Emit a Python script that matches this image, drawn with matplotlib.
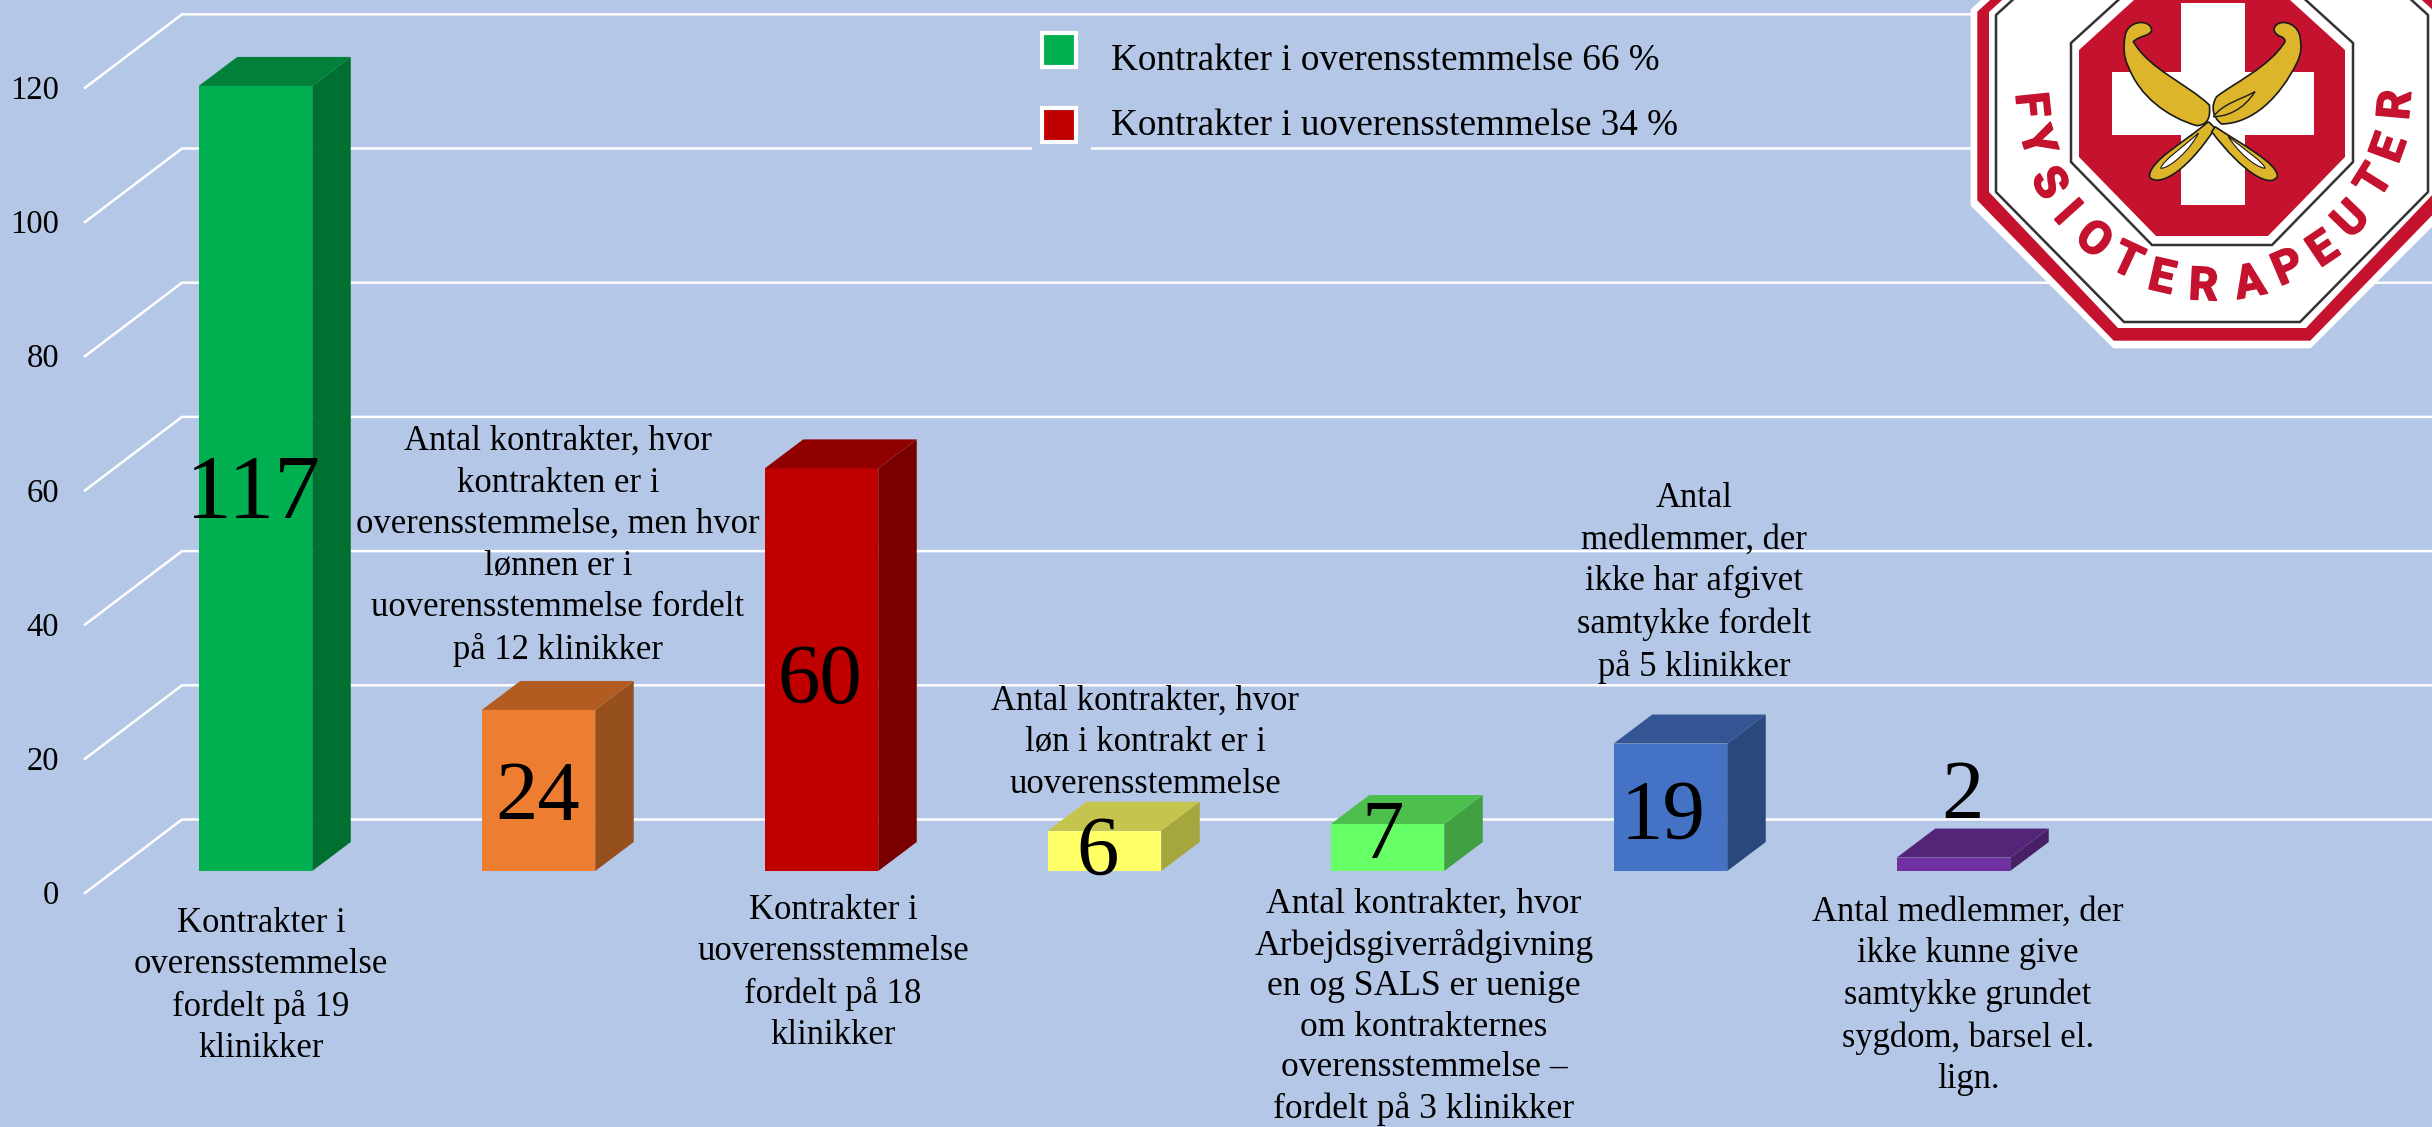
import matplotlib
matplotlib.use("Agg")
import matplotlib.pyplot as plt
import matplotlib.patheffects as pe
from matplotlib.patches import Polygon, Rectangle, PathPatch
from matplotlib.path import Path

# ---- data ----
categories = ["Kontrakter i overensstemmelse", "Overensstemmelse, løn i uoverensstemmelse",
              "Kontrakter i uoverensstemmelse", "Løn i kontrakt i uoverensstemmelse",
              "Uenighed", "Ikke afgivet samtykke", "Kunne ikke give samtykke"]
values = [117, 24, 60, 6, 7, 19, 2]
y_ticks = [0, 20, 40, 60, 80, 100, 120]
legend_labels = ["Kontrakter i overensstemmelse 66 %", "Kontrakter i uoverensstemmelse 34 %"]
notes = [
    "Kontrakter i\noverensstemmelse\nfordelt på 19\nklinikker",
    "Antal kontrakter, hvor\nkontrakten er i\noverensstemmelse, men hvor\nlønnen er i\nuoverensstemmelse fordelt\npå 12 klinikker",
    "Kontrakter i\nuoverensstemmelse\nfordelt på 18\nklinikker",
    "Antal kontrakter, hvor\nløn i kontrakt er i\nuoverensstemmelse",
    "Antal kontrakter, hvor\nArbejdsgiverrådgivning\nen og SALS er uenige\nom kontrakternes\noverensstemmelse –\nfordelt på 3 klinikker",
    "Antal\nmedlemmer, der\nikke har afgivet\nsamtykke fordelt\npå 5 klinikker",
    "Antal medlemmer, der\nikke kunne give\nsamtykke grundet\nsygdom, barsel el.\nlign.",
]

# ---- styles ----
BG = "#B4C7E7"
front = ["#00B050", "#ED7D31", "#C00000", "#FFFF66", "#66FF66", "#4472C4", "#7030A0"]
side = ["#007030", "#96501E", "#7A0000", "#A6A63E", "#41A041", "#2B487C", "#472066"]
top = ["#008038", "#B35C21", "#900000", "#C4C44E", "#4DBF4D", "#335593", "#542478"]
note_xy = [(261, 986), (558, 546), (833, 973), (1145, 743), (1424, 1007), (1694, 583), (1968, 996)]
note_size = [24.9, 24.9, 24.9, 24.9, 25.6, 24.9, 24.9]
note_spacing = [1.34, 1.34, 1.34, 1.34, 1.30, 1.34, 1.34]
value_xy = [(253, 496), (538, 800), (820, 682), (1098, 854), (1383, 838), (1663, 818), (1962, 798)]
value_size = [66, 61, 61, 61, 61, 61, 61]
SERIF = "Liberation Serif"
W, H = 2432, 1127
PX_X, X0 = 283.0, 255.5     # pixels per category, pixel of category 0
PX_Y, Y0 = 6.71, 871.0      # pixels per unit, pixel of value 0
BAR_W = 113.5 / PX_X
DX, DY = 38.5 / PX_X, 29 / PX_Y

fig = plt.figure(figsize=(W / 100, H / 100), dpi=100, facecolor=BG)
ax = fig.add_axes([0, 0, 1, 1], facecolor=BG)
ax.set_xlim(-X0 / PX_X, (W - X0) / PX_X)
ax.set_ylim((Y0 - H) / PX_Y, Y0 / PX_Y)
ax.axis("off")

# grid lines in the pseudo-3D floor/wall
gx0, gx1 = (85 - X0) / PX_X, (182 - X0) / PX_X
gy0, gy1 = -22 / PX_Y, 51.5 / PX_Y
for t in y_ticks:
    ax.plot([gx0, gx1, (W + 20 - X0) / PX_X], [t + gy0, t + gy1, t + gy1],
            color="white", lw=1.8, zorder=1, solid_joinstyle="miter")

# bars
xs = list(range(len(values)))
ax.bar(xs, values, width=BAR_W, color=front, zorder=3, linewidth=0)
for x, v, s, tp in zip(xs, values, side, top):
    l, r = x - BAR_W / 2, x + BAR_W / 2
    ax.add_patch(Polygon([(r, 0), (r + DX, DY), (r + DX, v + DY), (r, v)], fc=s, lw=0, zorder=3))
    ax.add_patch(Polygon([(l, v), (r, v), (r + DX, v + DY), (l + DX, v + DY)], fc=tp, lw=0, zorder=3))

# overlay in pixel coordinates for annotation and logo
ov = fig.add_axes([0, 0, 1, 1], facecolor="none")
ov.set_xlim(0, W)
ov.set_ylim(H, 0)
ov.axis("off")

for t in y_ticks:
    ov.text(59, Y0 + 25 - t * PX_Y, str(t), ha="right", va="center", family=SERIF, fontsize=23.5, color="black")

for (x, y), txt, fs, ls in zip(note_xy, notes, note_size, note_spacing):
    ov.text(x, y, txt, ha="center", va="center", family=SERIF, fontsize=fs,
            linespacing=ls, color="black", zorder=5)
for (x, y), v, fs in zip(value_xy, values, value_size):
    ov.text(x, y, str(v), ha="center", va="center", family=SERIF, fontsize=fs, color="black", zorder=6)

# legend
ov.add_patch(Rectangle((1032, 138), 59, 22, fc=BG, lw=0, zorder=2))
for y, ty, c, lab in zip((50, 124.5), (61, 126), (front[0], front[2]), legend_labels):
    ov.add_patch(Rectangle((1042, y - 17), 34, 34, fc=c, ec="white", lw=3, zorder=4))
    ov.text(1111, ty, lab, ha="left", va="center", family=SERIF, fontsize=26.7, color="black", zorder=5)

# ---- logo ----
RED, GOLD = "#C4122F", "#DDB52B"
CX = 2212.0


def octagon(a, b, ys, yb, yt):
    """a half width, b half width of flat bottom, ys/yt y of the lower/upper side breaks, yb bottom y."""
    up = yt + 40
    return [(CX - a + up * 1.1, -40), (CX - a, yt), (CX - a, ys), (CX - b, yb), (CX + b, yb),
            (CX + a, ys), (CX + a, yt), (CX + a - up * 1.1, -40)]


ov.add_patch(Polygon(octagon(240, 98, 205, 347, 10), fc="white", ec="white", lw=2, joinstyle="round", zorder=7))
ov.add_patch(Polygon(octagon(234, 98, 200, 340, 12), fc=RED, ec=RED, lw=1, joinstyle="round", zorder=7))
ov.add_patch(Polygon(octagon(223, 94, 192, 328, 12), fc="white", lw=0, zorder=7))
ov.add_patch(Polygon(octagon(216, 88, 192, 322, 15), fc="white", ec="#333333", lw=1.8, joinstyle="round", zorder=7))
ov.add_patch(Polygon(octagon(141, 60, 162, 245, 43), fc="white", ec="#333333", lw=1.8, zorder=7))
ov.add_patch(Polygon(octagon(133, 56, 157, 236, 50), fc=RED, lw=0, zorder=7))
ov.add_patch(Rectangle((2181, 3), 64, 202, fc="white", lw=0, zorder=7))
ov.add_patch(Rectangle((2112, 72), 202, 63, fc="white", lw=0, zorder=7))


def zp(x, y):
    return (1950 + x / 3, y / 3)


def blob(points):
    """points: start, then triples of cubic Bezier control points (crop coordinates)."""
    verts = [zp(*p) for p in points]
    codes = [Path.MOVETO] + [Path.CURVE4] * (len(points) - 1)
    return Path(verts, codes)


shapes = [
    [(525, 110), (530, 60), (600, 55), (605, 90), (600, 110), (570, 105), (550, 125),
     (600, 210), (710, 250), (778, 315), (782, 350), (775, 375), (740, 377),
     (650, 350), (570, 290), (535, 200), (520, 170), (520, 140), (525, 110)],
    [(1050, 110), (1040, 60), (975, 55), (972, 90), (980, 115), (1005, 105), (1005, 125),
     (960, 200), (850, 250), (800, 290), (780, 320), (790, 355), (815, 372),
     (910, 370), (990, 290), (1040, 190), (1055, 160), (1055, 140), (1050, 110)],
    [(775, 365), (700, 430), (600, 480), (598, 530), (620, 560), (700, 530), (795, 385),
     (790, 378), (782, 372), (775, 365)],
    [(795, 380), (870, 430), (985, 490), (982, 530), (960, 565), (880, 520), (785, 395),
     (790, 390), (792, 385), (795, 380)],
]
for s in shapes:
    ov.add_patch(PathPatch(blob(s), fc=GOLD, ec="#1a1a1a", lw=1.2, zorder=8))
slivers = [
    [(745, 400), (700, 440), (640, 480), (632, 505), (660, 505), (720, 450), (745, 400)],
    [(835, 410), (880, 445), (945, 490), (945, 505), (910, 500), (860, 450), (835, 410)],
]
for s in slivers:
    ov.add_patch(PathPatch(blob(s), fc="white", ec="#1a1a1a", lw=0.8, zorder=9))
ov.add_patch(PathPatch(blob([(915, 275), (870, 300), (820, 310), (790, 350),
                             (830, 350), (880, 330), (915, 275)]),
                       fc=GOLD, ec="#1a1a1a", lw=1.0, zorder=9))

letters = list("FYSIOTERAPEUTER")
letter_xy = [(240, 315), (258, 425), (295, 550), (350, 640), (430, 720), (530, 785), (635, 835),
             (760, 860), (900, 850), (1015, 805), (1120, 750), (1205, 660), (1275, 545),
             (1320, 445), (1340, 315)]
letter_rot = [-84, -72, -60, -48, -38, -25, -13, -3, 11, 23, 34, 46, 58, 70, 85]
for ch, (x, y), rot in zip(letters, letter_xy, letter_rot):
    px, py = zp(x, y)
    ov.text(px, py, ch, ha="center", va="center", rotation=rot, rotation_mode="anchor",
            family="Roboto", fontweight="bold", fontsize=33, color=RED, zorder=9,
            path_effects=[pe.withStroke(linewidth=1.2, foreground=RED)])

fig.savefig("out.png", dpi=100, facecolor=BG)
